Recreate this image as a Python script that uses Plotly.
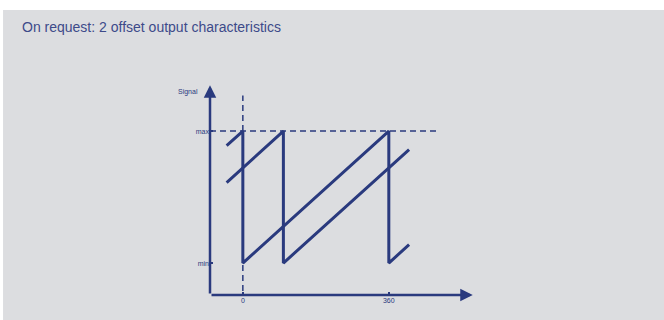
import plotly.graph_objects as go

# two offset sawtooth outputs, angle in degrees, signal normalised min=0 .. max=1
sig1_angle = [-40, 0, 0, 360, 360, 410]
sig1_value = [0.89, 1.0, 0.0, 1.0, 0.0, 0.14]
sig2_angle = [-40, 100, 100, 410]
sig2_value = [0.61, 1.0, 0.0, 0.86]

x_ticks = [0, 360]
x_ticktext = ["0", "360"]
y_ticks = [0, 1]
y_ticktext = ["min", "max"]

navy = "#2a3a7e"
grey = "#dcdde0"

x0, x1 = -81, 567
y0, y1 = -0.242, 1.348

fig = go.Figure()

for ang, val in [(sig1_angle, sig1_value), (sig2_angle, sig2_value)]:
    fig.add_trace(go.Scatter(x=ang, y=val, mode="lines",
                             line=dict(color=navy, width=3),
                             hoverinfo="skip", showlegend=False))

# grey panel with white strip on top/left
fig.add_shape(type="rect", xref="paper", yref="paper",
              x0=-0.778, x1=1.71, y0=-0.12, y1=1.338,
              fillcolor=grey, line_width=0, layer="below")

# dashed guides at 0 deg and at max
fig.add_shape(type="line", xref="x", yref="y", x0=0, x1=0, y0=y0 + 0.03, y1=1.27,
              line=dict(color=navy, width=1.5, dash="6px,4px"))
fig.add_shape(type="line", xref="x", yref="y", x0=x0, x1=478, y0=1, y1=1,
              line=dict(color=navy, width=1.5, dash="6px,4px"))

# axes with arrow tips
fig.add_annotation(x=x1, y=y0, ax=x0, ay=y0, axref="x", ayref="y", xref="x", yref="y",
                   text="", showarrow=True, arrowhead=2, arrowsize=1, arrowwidth=2.5,
                   arrowcolor=navy)
fig.add_annotation(x=x0, y=y1, ax=x0, ay=y0, axref="x", ayref="y", xref="x", yref="y",
                   text="", showarrow=True, arrowhead=2, arrowsize=1, arrowwidth=2.5,
                   arrowcolor=navy)
fig.add_annotation(x=x0, y=1.295, xref="x", yref="y", text="Signal", showarrow=False,
                   xanchor="right", xshift=-10, font=dict(size=7, color=navy))

fig.update_layout(
    width=664, height=320,
    margin=dict(l=210, r=188, t=82, b=25),
    paper_bgcolor="white", plot_bgcolor="rgba(0,0,0,0)",
    font=dict(family="Liberation Sans, Arial, sans-serif", color=navy),
    title=dict(text="On request: 2 offset output characteristics",
               x=22 / 664, xanchor="left", xref="container",
               y=1 - 27 / 320, yanchor="middle", yref="container",
               font=dict(size=14, color="#3d4a8a")),
)
fig.update_xaxes(range=[x0, 575], showgrid=False, zeroline=False, showline=False,
                 tickvals=x_ticks, ticktext=x_ticktext, ticks="inside", ticklen=3,
                 tickwidth=1.5, tickcolor=navy, tickfont=dict(size=7, color=navy))
fig.update_yaxes(range=[y0, 1.372], showgrid=False, zeroline=False, showline=False,
                 tickvals=y_ticks, ticktext=y_ticktext, ticks="inside", ticklen=3,
                 tickwidth=1.5, tickcolor=navy, tickfont=dict(size=7, color=navy))

# drop the default page margin so the figure sits at the window corner
fig.write_html("out.html", config={"displayModeBar": False},
               post_script="document.body.style.margin='0';")
